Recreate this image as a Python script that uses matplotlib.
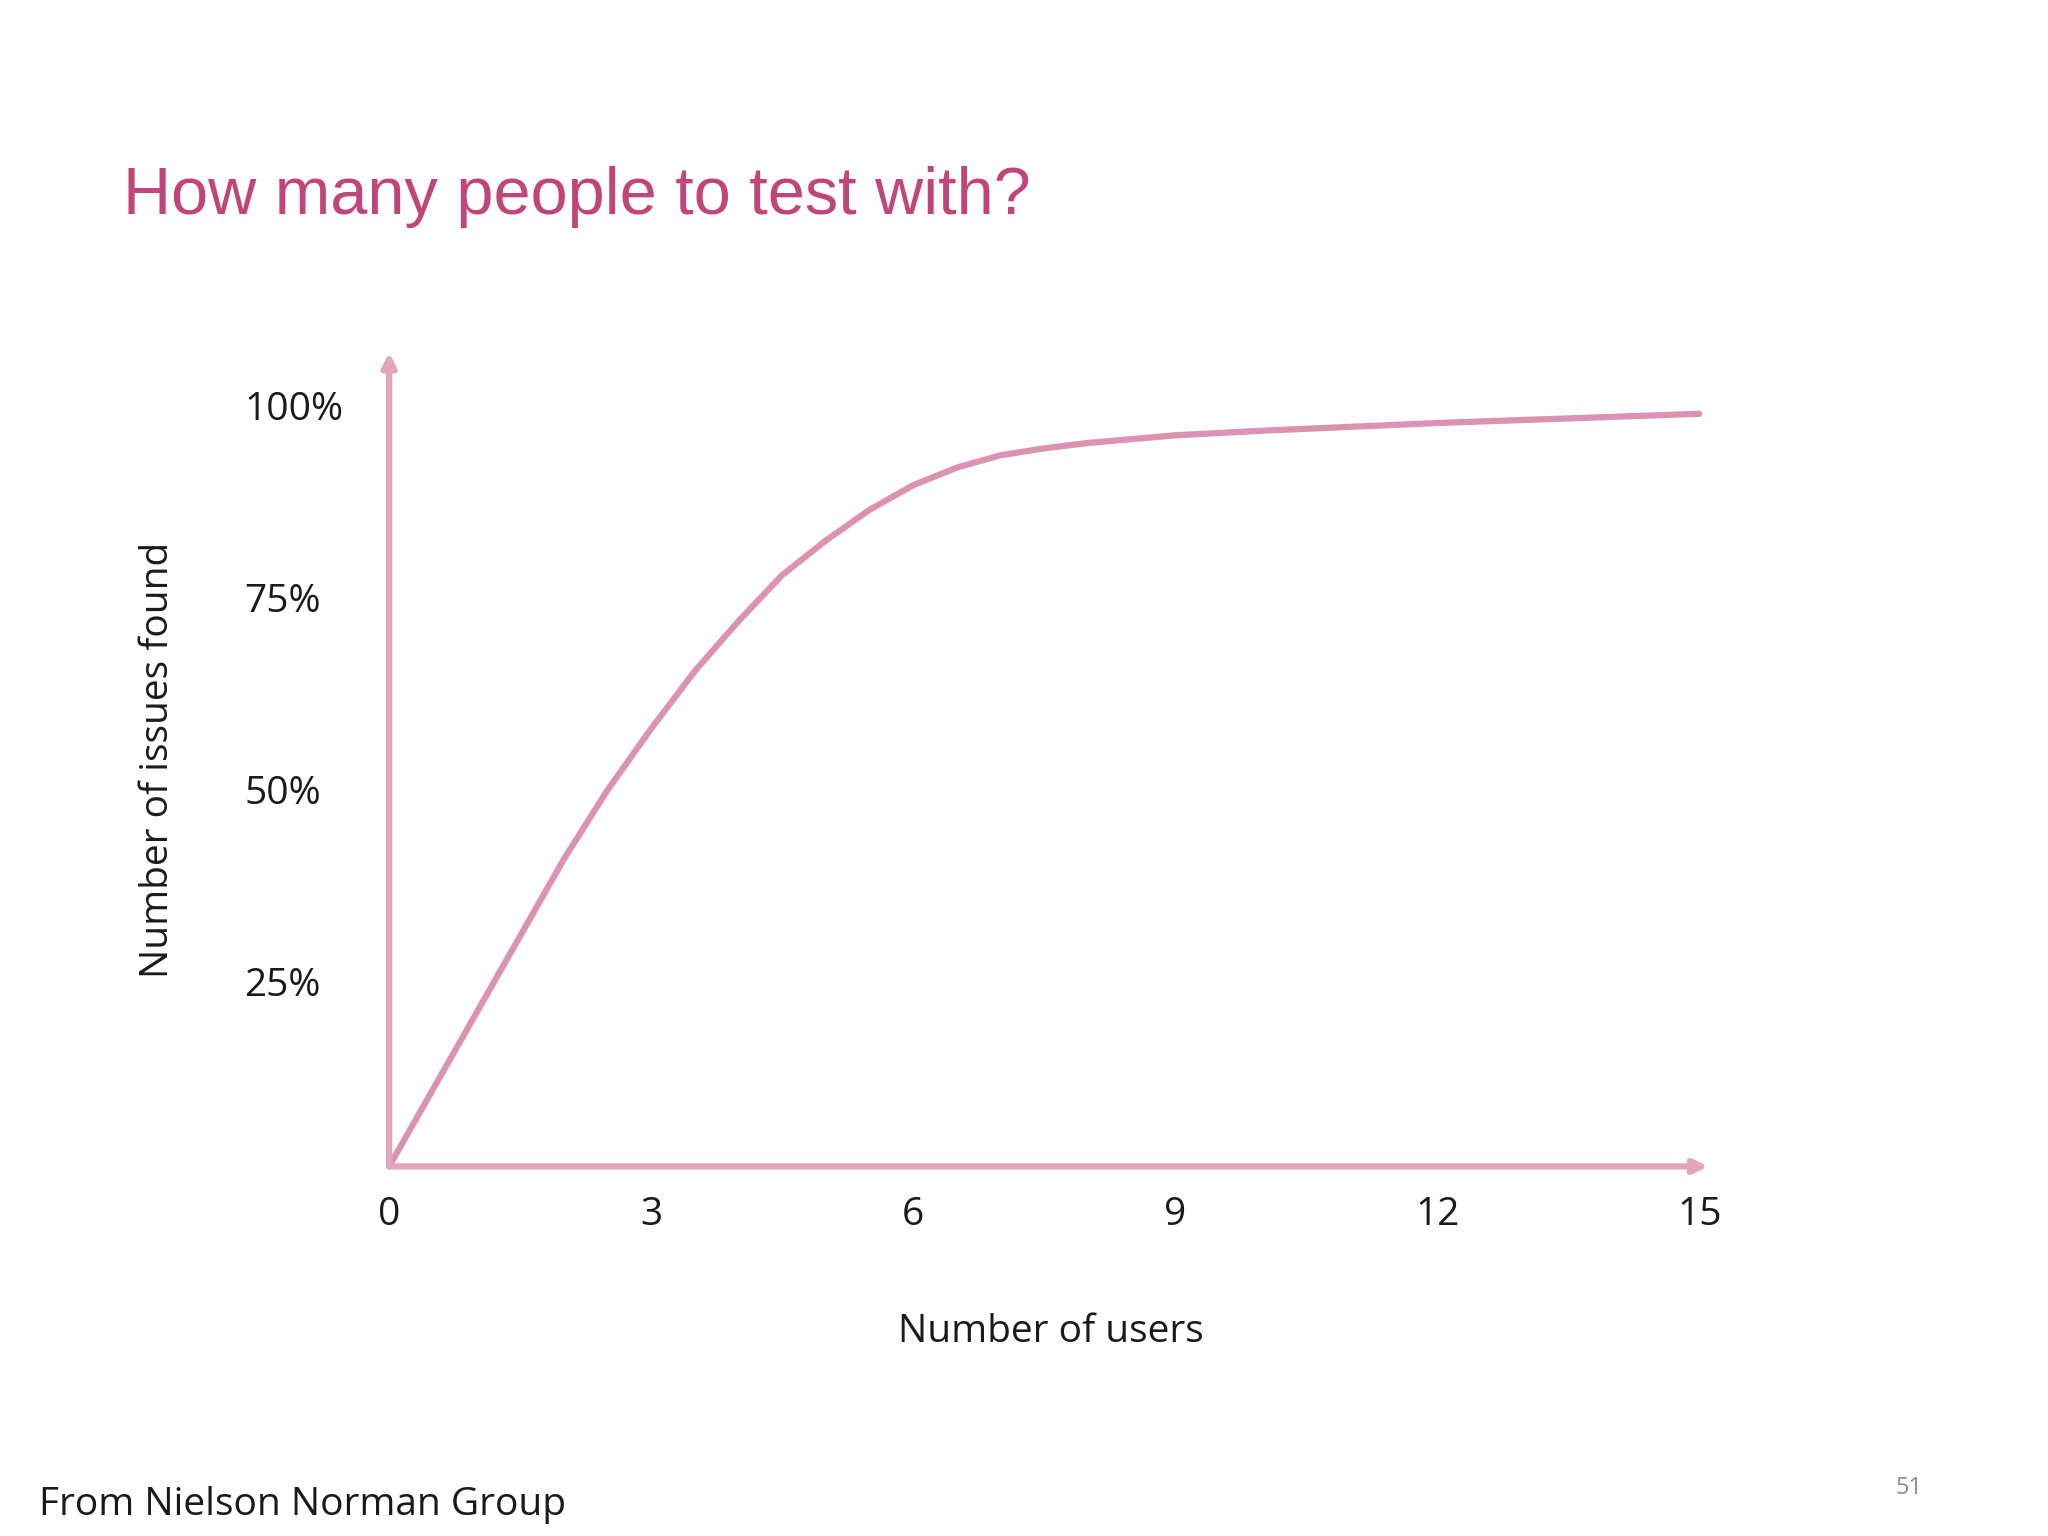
import matplotlib
matplotlib.use("Agg")
import matplotlib.pyplot as plt

# data
users = [0, 0.5, 1, 1.5, 2, 2.5, 3, 3.5, 4, 4.5, 5, 5.5, 6, 6.5, 7, 7.5, 8, 9, 10, 11, 12, 13, 14, 15]
found = [0, 10, 20, 30, 40, 49, 57, 64.5, 71, 77, 81.5, 85.5, 88.7, 91, 92.6, 93.5, 94.2, 95.2, 95.8, 96.3, 96.8, 97.2, 97.6, 98]
x_ticks = [0, 3, 6, 9, 12, 15]
y_ticks = [25, 50, 75, 100]
y_tick_labels = ["25%", "50%", "75%", "100%"]

pink_title = "#c2457a"
pink_line = "#dc93b2"
pink_axis = "#e2a5bd"
text_col = "#1a1a1a"
font = ["Open Sans", "DejaVu Sans"]

fig = plt.figure(figsize=(20.48, 15.36), dpi=100)
fig.patch.set_facecolor("white")
ax = fig.add_axes([0.190, 0.2406, 0.644, 0.530])
ax.set_xlim(0, 15.1)
ax.set_ylim(0, 106)
ax.axis("off")

# axes drawn as arrows
arrow = dict(arrowstyle="-|>,head_length=0.8,head_width=0.4", color=pink_axis, lw=4.5,
             shrinkA=0, shrinkB=0)
ax.annotate("", xy=(0, 106), xytext=(0, 0), arrowprops=arrow, annotation_clip=False)
ax.annotate("", xy=(15.1, 0), xytext=(0, 0), arrowprops=arrow, annotation_clip=False)

ax.plot(users, found, color=pink_line, lw=4.5, solid_capstyle="round",
        solid_joinstyle="round", clip_on=False)

for v, lab in zip(y_ticks, y_tick_labels):
    ax.text(-1.66, v - 1.5, lab, ha="left", va="center", fontsize=28, color=text_col,
            family=font, clip_on=False)
for v in x_ticks:
    ax.text(v, -6.3, str(v), ha="center", va="center", fontsize=28, color=text_col,
            family=font, clip_on=False)

fig.text(0.077, 0.505, "Number of issues found", rotation=90, ha="center", va="center",
         fontsize=28, color=text_col, family=font)
fig.text(0.513, 0.133, "Number of users", ha="center", va="center",
         fontsize=28, color=text_col, family=font)
fig.text(0.060, 0.872, "How many people to test with?", ha="left", va="center",
         fontsize=48, color=pink_title, family=["Liberation Sans", "DejaVu Sans"])
fig.text(0.019, 0.020, "From Nielson Norman Group", ha="left", va="center",
         fontsize=28, color=text_col, family=font)
fig.text(0.932, 0.031, "51", ha="center", va="center", fontsize=17, color="#8a8a8a",
         family=font)

fig.savefig("out.png", dpi=100, facecolor="white")
